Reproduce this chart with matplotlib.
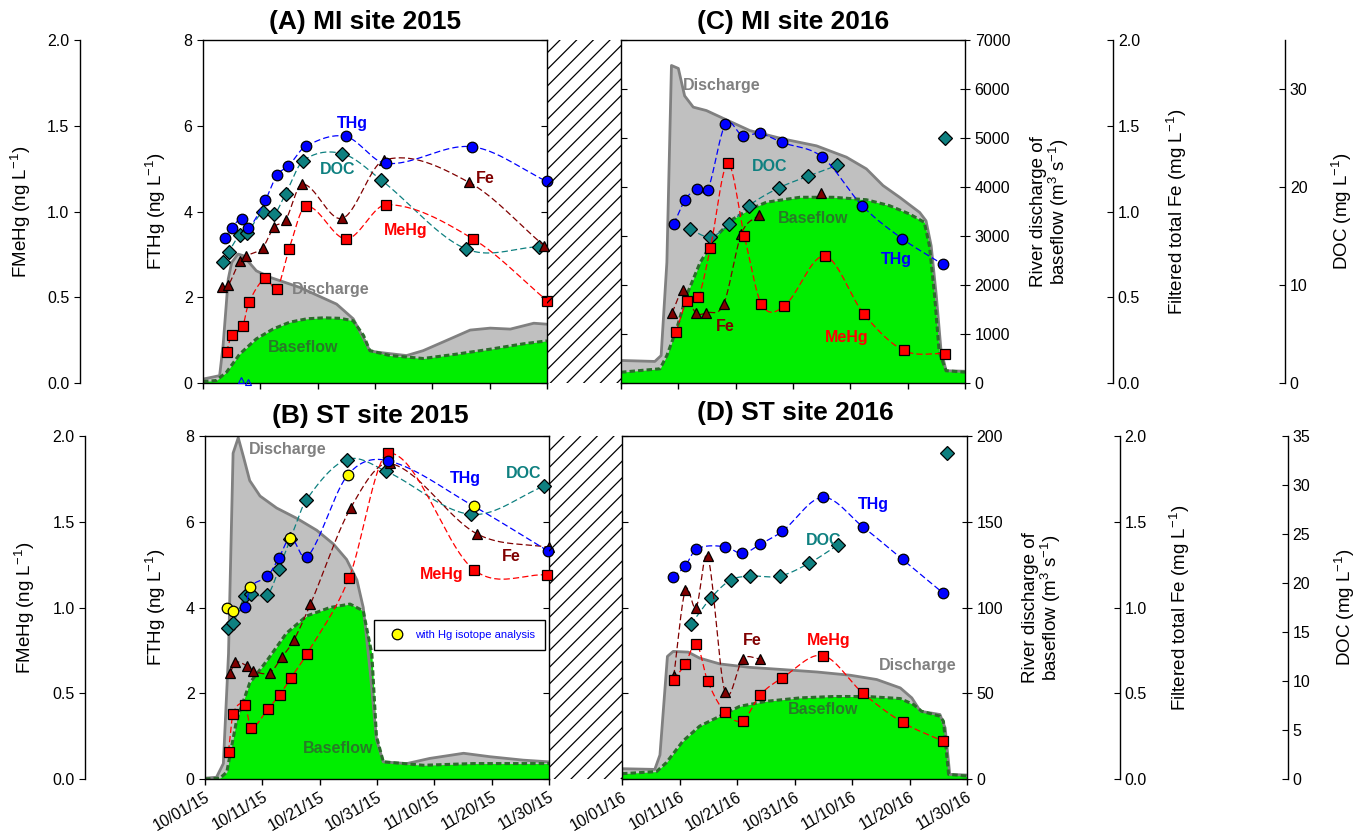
import numpy as np
import matplotlib
matplotlib.use("Agg")
import matplotlib.pyplot as plt
from matplotlib.lines import Line2D
from matplotlib.patches import Rectangle
from matplotlib.ticker import FormatStrFormatter

plt.rcParams['font.family'] = ['Liberation Sans', 'DejaVu Sans']
plt.rcParams['mathtext.fontset'] = 'custom'
plt.rcParams['mathtext.rm'] = 'Liberation Sans'
plt.rcParams['mathtext.it'] = 'Liberation Sans:italic'
plt.rcParams['mathtext.bf'] = 'Liberation Sans:bold'
plt.rcParams['hatch.linewidth'] = 0.9
plt.rcParams['hatch.color'] = 'black'
plt.rcParams['axes.linewidth'] = 1.0

# ---------------- data (days after Oct 1) ----------------
x_ticklabels_15 = ['10/01/15', '10/11/15', '10/21/15', '10/31/15', '11/10/15', '11/20/15', '11/30/15']
x_ticklabels_16 = ['10/01/16', '10/11/16', '10/21/16', '10/31/16', '11/10/16', '11/20/16', '11/30/16']

# (A) MI site 2015
a_thg_day = [3.8, 5.0, 6.8, 7.9, 10.9, 12.9, 14.9, 17.9, 24.9, 31.9, 46.9, 60.0]
a_thg = [3.38, 3.62, 3.83, 3.61, 4.27, 4.85, 5.06, 5.52, 5.75, 5.12, 5.51, 4.70]
a_doc_day = [3.5, 4.5, 6.4, 7.6, 10.5, 12.4, 14.4, 17.5, 24.3, 31.1, 45.8, 58.6]
a_doc = [12.3, 13.4, 15.1, 15.3, 17.5, 17.2, 19.3, 22.7, 23.4, 20.7, 13.7, 13.9]
a_fe_day = [3.3, 4.4, 6.4, 7.5, 10.4, 12.4, 14.4, 17.3, 24.3, 31.6, 46.4, 59.5]
a_fe = [0.56, 0.57, 0.71, 0.74, 0.79, 0.91, 0.95, 1.16, 0.96, 1.30, 1.17, 0.80]
a_mehg_day = [4.1, 5.0, 6.9, 8.0, 10.9, 12.9, 15.0, 17.9, 25.0, 32.0, 47.1, 60.0]
a_mehg = [0.18, 0.28, 0.33, 0.47, 0.61, 0.55, 0.78, 1.03, 0.84, 1.04, 0.84, 0.48]
a_open_day = [6.7, 7.9]
a_open = [0.06, 0.02]
a_q_day = [0, 2.9, 3.5, 4.4, 5.0, 6.1, 7.0, 9.3, 11.6, 16.9, 23.3, 26.2, 29.1, 30.3,
           35.5, 38.4, 43.1, 46.6, 50.1, 53.6, 57.7, 60]
a_q = [80, 150, 760, 2120, 2460, 2630, 2600, 2290, 2160, 1950, 1610, 1310, 660, 630,
       560, 660, 900, 1080, 1120, 1100, 1220, 1200]
a_bf_day = [0, 2.3, 4.1, 6.4, 9.3, 12.2, 15.1, 18.1, 21.0, 23.9, 26.2, 28.0, 29.1,
            32.6, 38.4, 44.3, 50.1, 55.9, 60]
a_bf = [30, 50, 220, 590, 900, 1100, 1240, 1310, 1330, 1320, 1270, 970, 660,
        560, 500, 590, 690, 800, 860]

# (C) MI site 2016
c_thg_day = [9.2, 11.2, 13.2, 15.1, 18.2, 21.2, 24.2, 28.1, 35.1, 42.1, 49.0, 56.1]
c_thg = [3.71, 4.27, 4.53, 4.49, 6.03, 5.77, 5.82, 5.61, 5.27, 4.13, 3.37, 2.77]
c_doc_day = [12.0, 15.6, 18.9, 22.3, 27.5, 32.6, 37.7]
c_doc = [15.7, 14.9, 16.2, 18.1, 19.9, 21.1, 22.2]
c_doc_late_day = [56.5]
c_doc_late = [25.0]
c_fe_day = [8.9, 10.9, 13.0, 14.9, 17.9, 21.0, 24.0]
c_fe = [0.41, 0.54, 0.41, 0.41, 0.46, 0.87, 0.98]
c_fe_late_day = [34.8]
c_fe_late = [1.11]
c_mehg_day = [9.6, 11.5, 13.5, 15.6, 18.6, 21.5, 24.5, 28.5, 35.5, 42.4, 49.3, 56.5]
c_mehg = [0.30, 0.48, 0.50, 0.79, 1.28, 0.86, 0.46, 0.45, 0.74, 0.40, 0.19, 0.17]
c_q_day = [0, 5.9, 7.0, 8.0, 8.8, 10.0, 11.1, 12.6, 14.9, 18.4, 22.5, 28.3, 34.1, 39.3,
           42.8, 45.7, 48.6, 52.1, 53.2, 54.1, 55.0, 55.8, 56.7, 60]
c_q = [460, 440, 560, 2460, 6480, 6420, 5860, 5630, 5560, 5370, 5150, 4980, 4840, 4610,
       4370, 4030, 3790, 3480, 3310, 2800, 1780, 690, 250, 240]
c_bf_day = [0, 6.8, 8.0, 9.7, 11.4, 13.8, 16.7, 19.6, 22.5, 25.4, 31.2, 37.0, 42.8,
            46.8, 50.3, 52.9, 53.8, 54.7, 55.5, 56.7, 60]
c_bf = [220, 290, 560, 1100, 1780, 2460, 3010, 3350, 3550, 3690, 3790, 3790, 3740,
        3620, 3450, 3280, 2800, 1780, 630, 250, 220]

# (B) ST site 2015
b_thg_day = [3.9, 4.9, 7.0, 7.9, 10.9, 12.9, 14.9, 17.8, 24.9, 32.0, 46.9, 59.8]
b_thg = [4.00, 3.91, 4.02, 4.47, 4.73, 5.16, 5.63, 5.17, 7.09, 7.42, 6.36, 5.32]
b_isotope = [1, 1, 0, 1, 0, 0, 1, 0, 1, 0, 1, 0]
b_doc_day = [3.95, 4.9, 7.0, 8.1, 10.9, 12.9, 14.9, 17.7, 24.7, 31.6, 46.4, 59.2]
b_doc = [15.4, 15.9, 18.7, 18.9, 18.8, 21.4, 24.5, 28.5, 32.6, 31.4, 27.0, 29.9]
b_fe_day = [4.4, 5.3, 7.3, 8.4, 11.3, 13.4, 15.5, 18.4, 25.4, 32.3, 47.4, 60.0]
b_fe = [0.62, 0.68, 0.66, 0.63, 0.62, 0.71, 0.81, 1.02, 1.58, 1.84, 1.43, 1.35]
b_mehg_day = [4.1, 4.9, 7.0, 8.0, 11.0, 13.0, 15.0, 17.8, 25.1, 32.0, 46.9, 59.7]
b_mehg = [0.16, 0.38, 0.43, 0.30, 0.41, 0.49, 0.59, 0.73, 1.17, 1.90, 1.22, 1.19]
b_q_day = [0, 2.0, 3.2, 4.1, 4.9, 5.8, 6.7, 7.8, 9.6, 12.5, 16.0, 19.5, 22.4, 24.7,
           26.5, 27.6, 28.8, 29.9, 31.1, 35.2, 39.2, 45.1, 49.7, 55.5, 60]
b_q = [0.5, 1, 9, 73, 190, 199, 188, 174, 165, 158, 152, 145, 137, 128,
       116, 100, 63, 23, 10, 9, 12, 15, 13, 11, 10]
b_bf_day = [0, 2.6, 3.8, 5.5, 7.8, 10.8, 14.2, 17.7, 21.8, 25.3, 27.6, 29.1, 29.9,
            31.1, 38.1, 46.8, 55.5, 60]
b_bf = [0, 0.5, 4, 34, 56, 69, 85, 95, 100, 102, 98, 73, 25,
        10, 8, 9, 9, 9]

# (D) ST site 2016
d_thg_day = [8.9, 11.0, 12.9, 17.9, 20.9, 24.0, 27.9, 34.9, 41.9, 48.8, 55.9]
d_thg = [4.71, 4.97, 5.36, 5.42, 5.26, 5.47, 5.78, 6.57, 5.88, 5.12, 4.33]
d_doc_day = [12.0, 15.5, 18.9, 22.3, 27.4, 32.5, 37.6]
d_doc = [15.8, 18.5, 20.3, 20.7, 20.7, 22.0, 23.9]
d_doc_late_day = [56.5]
d_doc_late = [33.3]
d_fe_day = [9.0, 11.0, 12.9, 14.9, 17.9, 21.0, 24.0]
d_fe = [0.60, 1.10, 1.00, 1.30, 0.51, 0.70, 0.70]
d_mehg_day = [9.0, 11.0, 12.95, 14.9, 17.9, 21.0, 24.0, 27.9, 34.9, 41.9, 48.8, 55.9]
d_mehg = [0.58, 0.67, 0.79, 0.57, 0.39, 0.34, 0.49, 0.59, 0.72, 0.50, 0.33, 0.22]
d_q_day = [0, 5.7, 6.6, 7.9, 8.9, 11.5, 13.5, 17.0, 22.2, 28.0, 33.9, 39.7, 44.3,
           48.4, 50.4, 51.9, 55.3, 56.2, 57.0, 60]
d_q = [6.0, 5.6, 14, 71.5, 74.4, 74.0, 70.5, 67.1, 65.1, 63.8, 62.4, 60.5, 58.0,
       53.1, 47.3, 39.5, 37.6, 29.8, 2.7, 2.3]
d_bf_day = [0, 6.0, 7.7, 10.6, 13.5, 17.0, 20.5, 25.1, 31.0, 36.8, 42.6, 48.4, 50.7,
            52.1, 55.3, 55.9, 56.8, 60]
d_bf = [3.1, 4.3, 9.5, 22.1, 30.8, 36.6, 42.4, 45.3, 47.3, 48.1, 48.1, 46.9, 43.4,
        39.5, 36.6, 33.7, 2.7, 1.7]

# colours
C_THG = '#0000ff'
C_DOC = '#0e8080'
C_FE = '#800000'
C_MEHG = '#ff0000'
C_Q = '#808080'
C_QFILL = '#c0c0c0'
C_BF = '#00ee00'
C_BFLINE = '#2c6b2c'
C_BFTXT = '#287a28'

FS_TICK = 11.5
FS_LAB = 13.5


def spline(x, y, num=60):
    # cubic Hermite (Catmull-Rom tangents) through the measured points, for the dashed guide lines
    x = np.asarray(x, float)
    y = np.asarray(y, float)
    n = len(x)
    m = np.zeros(n)
    m[0] = (y[1] - y[0]) / (x[1] - x[0])
    m[-1] = (y[-1] - y[-2]) / (x[-1] - x[-2])
    for i in range(1, n - 1):
        m[i] = (y[i + 1] - y[i - 1]) / (x[i + 1] - x[i - 1])
    xs_all, ys_all = [], []
    for i in range(n - 1):
        h = x[i + 1] - x[i]
        t = np.linspace(0, 1, num)
        h00 = 2 * t ** 3 - 3 * t ** 2 + 1
        h10 = t ** 3 - 2 * t ** 2 + t
        h01 = -2 * t ** 3 + 3 * t ** 2
        h11 = t ** 3 - t ** 2
        xs_all.append(x[i] + t * h)
        ys_all.append(h00 * y[i] + h10 * h * m[i] + h01 * y[i + 1] + h11 * h * m[i + 1])
    return np.concatenate(xs_all), np.concatenate(ys_all)


W, H = 1362, 834


def box(x0, y0, x1, y1):
    return [x0 / W, 1 - y1 / H, (x1 - x0) / W, (y1 - y0) / H]


fig = plt.figure(figsize=(13.62, 8.34), dpi=100)

DASH = (0, (5, 2.5))
MS_O, MS_S, MS_D, MS_T = 7.6, 7.0, 7.4, 7.6


def hide(a):
    for s in a.spines.values():
        s.set_visible(False)
    a.tick_params(axis='y', left=False, right=False, labelleft=False, labelright=False)


def series(a, days, vals, marker, fc, ms, lc):
    xs, ys = spline(days, vals)
    a.plot(xs, ys, color=lc, lw=0.9, ls=DASH)
    a.plot(days, vals, ls='none', marker=marker, ms=ms, mfc=fc, mec='black', mew=0.9, clip_on=False)


def panel(pos, p, side, qmax, qticks, docticks, offs, lab_coords, xlabels, texts):
    ax = fig.add_axes(box(*pos))
    ax.set_xlim(0, 60)
    ax.set_ylim(0, qmax)
    ax.fill_between(p['q_day'], p['q'], color=C_QFILL, lw=0)
    ax.plot(p['q_day'], p['q'], color=C_Q, lw=2)
    ax.fill_between(p['bf_day'], p['bf'], color=C_BF, lw=0)
    ax.plot(p['bf_day'], p['bf'], color=C_BFLINE, lw=2.2, ls=(0, (1.8, 1.0)))

    ax_d = ax.twinx()
    ax_f = ax.twinx()
    ax_m = ax.twinx()
    ax_t = ax.twinx()
    ax_e = ax.twinx()
    for a in (ax_d, ax_f, ax_m, ax_t, ax_e):
        hide(a)
    ax_d.set_ylim(0, 35)
    ax_f.set_ylim(0, 2)
    ax_m.set_ylim(0, 2)
    ax_t.set_ylim(0, 8)

    series(ax_d, p['doc_day'], p['doc'], 'D', C_DOC, MS_D, C_DOC)
    if 'doc_late_day' in p:
        ax_d.plot(p['doc_late_day'], p['doc_late'], ls='none', marker='D', ms=MS_D,
                  mfc=C_DOC, mec='black', mew=0.9, clip_on=False)
    series(ax_f, p['fe_day'], p['fe'], '^', C_FE, MS_T, C_FE)
    if 'fe_late_day' in p:
        ax_f.plot(p['fe_late_day'], p['fe_late'], ls='none', marker='^', ms=MS_T,
                  mfc=C_FE, mec='black', mew=0.9, clip_on=False)
    series(ax_m, p['mehg_day'], p['mehg'], 's', C_MEHG, MS_S, C_MEHG)
    if 'iso' in p:
        xs, ys = spline(p['thg_day'], p['thg'])
        ax_t.plot(xs, ys, color=C_THG, lw=0.9, ls=DASH)
        iso = np.array(p['iso'], bool)
        td = np.array(p['thg_day'])
        tv = np.array(p['thg'])
        ax_t.plot(td[~iso], tv[~iso], ls='none', marker='o', ms=MS_O, mfc=C_THG,
                  mec='black', mew=0.9, clip_on=False)
        ax_t.plot(td[iso], tv[iso], ls='none', marker='o', ms=MS_O, mfc='#ffff00',
                  mec='black', mew=0.9, clip_on=False)
        h = Line2D([], [], ls='none', marker='o', ms=MS_O, mfc='#ffff00', mec='black', mew=0.9)
        ax_t.legend([h], ['with Hg isotope analysis'], loc='center', bbox_to_anchor=(0.741, 0.42),
                    fontsize=8, labelcolor=C_THG, fancybox=False, edgecolor='black',
                    framealpha=1, borderpad=0.9, handletextpad=0.6, handlelength=2.2
                    ).get_frame().set_linewidth(1.0)
    else:
        series(ax_t, p['thg_day'], p['thg'], 'o', C_THG, MS_O, C_THG)
    if 'open_day' in p:
        ax_t.plot(p['open_day'], p['open'], ls='none', marker='^', ms=5, mfc='none',
                  mec=C_THG, mew=0.8, clip_on=False)

    for s, xd, yd, c in texts:
        ax_t.text(xd, yd, s, color=c, fontsize=11.5, fontweight='bold', ha='center', va='center')

    ax.set_xticks(np.arange(0, 61, 10))
    ax.tick_params(axis='x', direction='out', length=4, width=1, top=False)
    if xlabels is not None:
        ax.set_xticklabels(xlabels, rotation=30, ha='right', va='top',
                           rotation_mode='anchor', fontsize=FS_TICK)
    else:
        ax.set_xticklabels([])

    if side == 'left':
        ax.tick_params(axis='y', left=False, right=False, labelleft=False, labelright=False)
        ax_t.set_yticks([0, 2, 4, 6, 8])
        ax_t.tick_params(axis='y', left=True, labelleft=True, direction='out', length=4, labelsize=FS_TICK)
        ax_t.yaxis.set_label_position('left')
        ax_t.set_ylabel(r'FTHg (ng L$^{-1}$)', fontsize=FS_LAB)
        ax_t.yaxis.set_label_coords(lab_coords[0], 0.5)
        ax_e.set_ylim(0, 8)
        ax_e.set_yticks([0, 2, 4, 6, 8])
        ax_e.tick_params(axis='y', right=True, labelright=False, direction='in', length=4)
        ax_m.spines['left'].set_visible(True)
        ax_m.spines['left'].set_position(('axes', offs[0]))
        ax_m.set_yticks(np.arange(0, 2.01, 0.5))
        ax_m.yaxis.set_major_formatter(FormatStrFormatter('%.1f'))
        ax_m.tick_params(axis='y', left=True, labelleft=True, direction='out', length=4, labelsize=FS_TICK)
        ax_m.yaxis.set_label_position('left')
        ax_m.set_ylabel(r'FMeHg (ng L$^{-1}$)', fontsize=FS_LAB)
        ax_m.yaxis.set_label_coords(lab_coords[1], 0.5)
    else:
        ax.yaxis.tick_right()
        ax.set_yticks(qticks)
        ax.tick_params(axis='y', right=True, left=False, labelright=True, labelleft=False,
                       direction='inout', length=7, labelsize=FS_TICK)
        ax.yaxis.set_label_position('right')
        ax.set_ylabel('River discharge of\n' + r'baseflow (m$^3$ s$^{-1}$)', fontsize=FS_LAB,
                      multialignment='center', linespacing=1.0)
        ax.yaxis.set_label_coords(lab_coords[0], 0.5)
        ax_e.set_ylim(0, qmax)
        ax_e.set_yticks(qticks)
        ax_e.yaxis.tick_left()
        ax_e.tick_params(axis='y', left=True, labelleft=False, direction='in', length=4)
        ax_f.spines['right'].set_visible(True)
        ax_f.spines['right'].set_position(('axes', offs[0]))
        ax_f.set_yticks(np.arange(0, 2.01, 0.5))
        ax_f.yaxis.set_major_formatter(FormatStrFormatter('%.1f'))
        ax_f.tick_params(axis='y', right=True, labelright=True, direction='in', length=4, labelsize=FS_TICK)
        ax_f.yaxis.set_label_position('right')
        ax_f.set_ylabel(r'Filtered total Fe (mg L$^{-1}$)', fontsize=FS_LAB)
        ax_f.yaxis.set_label_coords(lab_coords[1], 0.5)
        ax_d.spines['right'].set_visible(True)
        ax_d.spines['right'].set_position(('axes', offs[1]))
        ax_d.set_yticks(docticks)
        ax_d.tick_params(axis='y', right=True, labelright=True, direction='in', length=4, labelsize=FS_TICK)
        ax_d.yaxis.set_label_position('right')
        ax_d.set_ylabel(r'DOC (mg L$^{-1}$)', fontsize=FS_LAB)
        ax_d.yaxis.set_label_coords(lab_coords[2], 0.5)
    return ax


def hatch(pos):
    hx = fig.add_axes(box(*pos))
    hx.axis('off')
    hx.add_patch(Rectangle((0, 0), 1, 1, transform=hx.transAxes, facecolor='none',
                           edgecolor='black', lw=0, hatch='//'))


pA = dict(thg_day=a_thg_day, thg=a_thg, doc_day=a_doc_day, doc=a_doc, fe_day=a_fe_day, fe=a_fe,
          mehg_day=a_mehg_day, mehg=a_mehg, q_day=a_q_day, q=a_q, bf_day=a_bf_day, bf=a_bf,
          open_day=a_open_day, open=a_open)
pC = dict(thg_day=c_thg_day, thg=c_thg, doc_day=c_doc_day, doc=c_doc, fe_day=c_fe_day, fe=c_fe,
          mehg_day=c_mehg_day, mehg=c_mehg, q_day=c_q_day, q=c_q, bf_day=c_bf_day, bf=c_bf,
          doc_late_day=c_doc_late_day, doc_late=c_doc_late,
          fe_late_day=c_fe_late_day, fe_late=c_fe_late)
pB = dict(thg_day=b_thg_day, thg=b_thg, iso=b_isotope, doc_day=b_doc_day, doc=b_doc,
          fe_day=b_fe_day, fe=b_fe, mehg_day=b_mehg_day, mehg=b_mehg,
          q_day=b_q_day, q=b_q, bf_day=b_bf_day, bf=b_bf)
pD = dict(thg_day=d_thg_day, thg=d_thg, doc_day=d_doc_day, doc=d_doc, fe_day=d_fe_day, fe=d_fe,
          mehg_day=d_mehg_day, mehg=d_mehg, q_day=d_q_day, q=d_q, bf_day=d_bf_day, bf=d_bf,
          doc_late_day=d_doc_late_day, doc_late=d_doc_late)

txtA = [('THg', 26.0, 6.06, C_THG), ('DOC', 23.4, 4.97, C_DOC), ('Fe', 49.2, 4.78, C_FE),
        ('MeHg', 35.4, 3.55, C_MEHG), ('Discharge', 22.2, 2.17, C_Q), ('Baseflow', 17.4, 0.82, C_BFTXT)]
txtC = [('Discharge', 17.6, 6.93, C_Q), ('DOC', 26.0, 5.06, C_DOC), ('Baseflow', 33.5, 3.83, C_BFTXT),
        ('THg', 48.0, 2.89, C_THG), ('Fe', 18.1, 1.31, C_FE), ('MeHg', 39.4, 1.07, C_MEHG)]
txtB = [('Discharge', 14.5, 7.69, C_Q), ('THg', 45.5, 7.01, C_THG), ('DOC', 55.5, 7.13, C_DOC),
        ('Fe', 53.4, 5.19, C_FE), ('MeHg', 41.3, 4.77, C_MEHG), ('Baseflow', 23.2, 0.70, C_BFTXT)]
txtD = [('THg', 43.8, 6.40, C_THG), ('DOC', 35.1, 5.56, C_DOC), ('Fe', 22.7, 3.22, C_FE),
        ('MeHg', 35.9, 3.22, C_MEHG), ('Discharge', 51.5, 2.64, C_Q), ('Baseflow', 34.9, 1.61, C_BFTXT)]

panel((203, 40, 547, 383), pA, 'left', 7000, None, None, (-0.358,), (-0.102, -0.494), None, txtA)
panel((621, 40, 965, 383), pC, 'right', 7000, np.arange(0, 7001, 1000), [0, 10, 20, 30],
      (1.430, 1.930), (1.189, 1.581, 2.061), None, txtC)
panel((205, 436, 549, 779), pB, 'left', 200, None, None, (-0.349,), (-0.108, -0.488),
      x_ticklabels_15, txtB)
panel((622, 436, 967, 779), pD, 'right', 200, np.arange(0, 201, 50), np.arange(0, 36, 5),
      (1.443, 1.930), (1.159, 1.583, 2.061), x_ticklabels_16, txtD)

hatch((547, 40, 621, 383))
hatch((549, 436, 622, 779))

for s, x, y in [('(A) MI site 2015', 365, 22), ('(C) MI site 2016', 793, 22),
                ('(B) ST site 2015', 370, 416), ('(D) ST site 2016', 795, 413)]:
    fig.text(x / W, 1 - y / H, s, fontsize=19, fontweight='bold', ha='center', va='center')

fig.savefig('out.png', dpi=100)
